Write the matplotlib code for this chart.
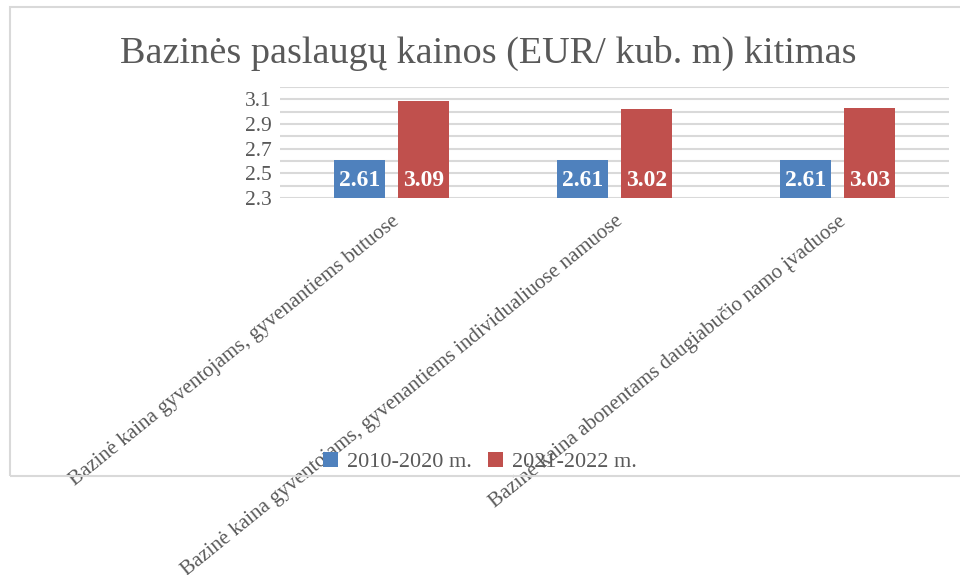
import numpy as np
import matplotlib.pyplot as plt
from matplotlib.patches import Rectangle
from matplotlib.ticker import MultipleLocator

plt.rcParams['font.family'] = ['Liberation Serif', 'DejaVu Serif']

# Données
categories = [
    'Bazinė kaina gyventojams, gyvenantiems butuose',
    'Bazinė kaina gyventojams, gyvenantiems individualiuose namuose',
    'Bazinė kaina abonentams daugiabučio namo įvaduose',
]
series_names = ['2010-2020 m.', '2021-2022 m.']
values_2010_2020 = [2.61, 2.61, 2.61]
values_2021_2022 = [3.09, 3.02, 3.03]

colors = ['#4F81BD', '#C0504D']
grey = '#595959'
grid_col = '#d9d9d9'

fig = plt.figure(figsize=(9.6, 5.75), dpi=100)
ax = fig.add_axes([280 / 960, 1 - 198 / 575, (949 - 280) / 960, (198 - 87) / 575])

# Cadre du graphique
fig.patches.append(Rectangle((10 / 960, 1 - 476 / 575), 1.2, (476 - 7) / 575,
                             transform=fig.transFigure, fill=False,
                             edgecolor=grid_col, linewidth=1.5, zorder=0))

x = np.arange(len(categories))
width = 0.229
offset = 0.144
base = 2.3

for vals, name, col, dx in [(values_2010_2020, series_names[0], colors[0], -offset),
                            (values_2021_2022, series_names[1], colors[1], offset)]:
    ax.bar(x + dx, np.array(vals) - base, width, bottom=base, color=col,
           label=name, zorder=3)
    for xi, v in zip(x + dx, vals):
        ax.text(xi, 2.44, f'{v:.2f}', ha='center', va='center', color='white',
                fontsize=17, fontweight='bold', zorder=4)

ax.set_xlim(-0.5, 2.5)
ax.set_ylim(2.3, 3.2)
ax.yaxis.set_minor_locator(MultipleLocator(0.1))
ax.set_yticks([2.3, 2.5, 2.7, 2.9, 3.1])
ax.yaxis.grid(True, which='both', color=grid_col, linewidth=1.5, zorder=0)
ax.set_axisbelow(True)
for s in ax.spines.values():
    s.set_visible(False)
ax.tick_params(axis='both', which='both', length=0, colors=grey, labelsize=15.5)
ax.tick_params(axis='y', pad=6)

ax.set_xticks(x)
ax.set_xticklabels(categories, rotation=39, ha='right', va='top',
                   rotation_mode='anchor', fontsize=15, color=grey)
ax.tick_params(axis='x', pad=10)

fig.text(488 / 960, 1 - 53 / 575, 'Bazinės paslaugų kainos (EUR/ kub. m) kitimas',
         ha='center', va='center', fontsize=27.5, color=grey)

fig.legend(loc='center', bbox_to_anchor=(480 / 960, 1 - 462 / 575), ncol=2,
           frameon=False, fontsize=16, handlelength=0.7, handleheight=0.7,
           handletextpad=0.4, columnspacing=0.7, labelcolor=grey)

fig.savefig('out.png', dpi=100)
